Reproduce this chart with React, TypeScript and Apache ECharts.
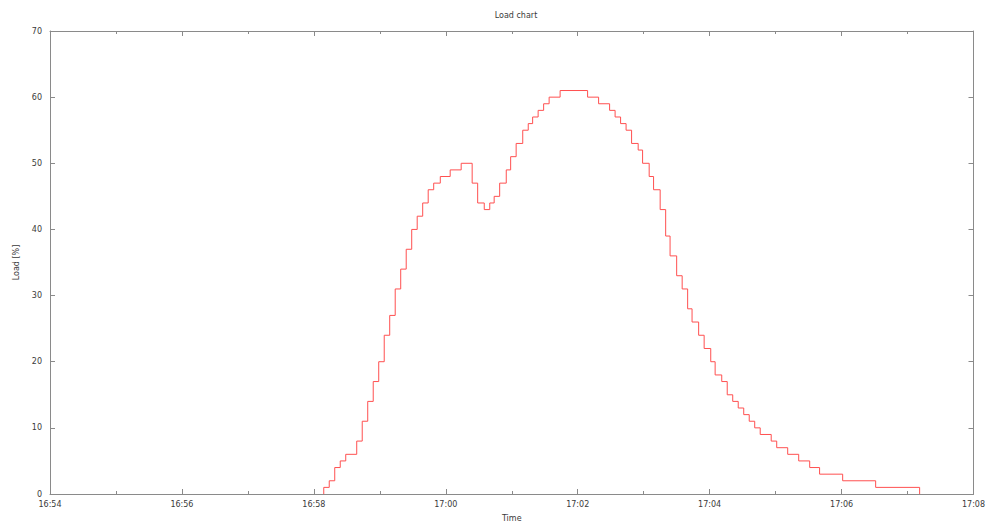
import React, { useEffect, useRef } from "react";
import * as echarts from "echarts";

// Sample times (HH:MM:SS) at which the load changes, and the new load value [%]
const sampleTimes: string[] = [
  "16:58:09", "16:58:09", "16:58:14", "16:58:19", "16:58:24", "16:58:29", "16:58:39", "16:58:44",
  "16:58:49", "16:58:54", "16:58:59", "16:59:04", "16:59:09", "16:59:14", "16:59:19", "16:59:24",
  "16:59:29", "16:59:34", "16:59:39", "16:59:44", "16:59:49", "16:59:55", "17:00:04", "17:00:14",
  "17:00:24", "17:00:29", "17:00:35", "17:00:40", "17:00:44", "17:00:49", "17:00:55", "17:00:59",
  "17:01:04", "17:01:10", "17:01:15", "17:01:19", "17:01:24", "17:01:29", "17:01:34", "17:01:44",
  "17:02:09", "17:02:19", "17:02:29", "17:02:34", "17:02:39", "17:02:44", "17:02:49", "17:02:55",
  "17:02:59", "17:03:05", "17:03:09", "17:03:15", "17:03:20", "17:03:24", "17:03:30", "17:03:35",
  "17:03:40", "17:03:44", "17:03:50", "17:03:55", "17:04:01", "17:04:05", "17:04:11", "17:04:16",
  "17:04:21", "17:04:26", "17:04:31", "17:04:36", "17:04:41", "17:04:46", "17:04:56", "17:05:01",
  "17:05:11", "17:05:21", "17:05:31", "17:05:40", "17:06:01", "17:06:31", "17:07:11",
];
const loadValues: number[] = [
  0, 1, 2, 4, 5, 6, 8, 11,
  14, 17, 20, 24, 27, 31, 34, 37,
  40, 42, 44, 46, 47, 48, 49, 50,
  47, 44, 43, 44, 45, 47, 49, 51,
  53, 55, 56, 57, 58, 59, 60, 61,
  60, 59, 58, 57, 56, 55, 53, 52,
  50, 48, 46, 43, 39, 36, 33, 31,
  28, 26, 24, 22, 20, 18, 17, 15,
  14, 13, 12, 11, 10, 9, 8, 7,
  6, 5, 4, 3, 2, 1, 0,
];

const xStart = "16:54";
const xEnd = "17:08";
const xTickStepMinutes = 2;
const yMin = 0;
const yMax = 70;
const yStep = 10;

const toSec = (s: string) => {
  const p = s.split(":").map(Number);
  return p[0] * 3600 + p[1] * 60 + (p[2] || 0);
};
const fmt = (v: number) => {
  const h = Math.floor(v / 3600);
  const m = Math.floor((v % 3600) / 60);
  return `${String(h).padStart(2, "0")}:${String(m).padStart(2, "0")}`;
};

export default function App() {
  const ref = useRef<HTMLDivElement>(null);
  useEffect(() => {
    if (!ref.current) return;
    const chart = echarts.init(ref.current, undefined, { renderer: "svg" });
    const font = "DejaVu Sans";
    const txt = "#3a3a3a";
    const axisCol = "#8a8a8a";
    const data = sampleTimes.map((t, i) => [toSec(t), loadValues[i]]);
    const xCommon = {
      type: "value" as const,
      min: toSec(xStart),
      max: toSec(xEnd),
      interval: xTickStepMinutes * 60,
      splitLine: { show: false },
      axisLine: { show: true, onZero: false, lineStyle: { color: axisCol, width: 1 } },
      axisTick: { show: true, inside: true, length: 5, lineStyle: { color: axisCol } },
      minorTick: { show: true, splitNumber: 2, length: 3, lineStyle: { color: axisCol } },
    };
    const yCommon = {
      type: "value" as const,
      min: yMin,
      max: yMax,
      interval: yStep,
      splitLine: { show: false },
      axisLine: { show: true, onZero: false, lineStyle: { color: axisCol, width: 1 } },
      axisTick: { show: true, inside: true, length: 5, lineStyle: { color: axisCol } },
    };
    chart.setOption({
      animation: false,
      backgroundColor: "#ffffff",
      title: {
        text: "Load chart",
        left: 511,
        textAlign: "center",
        top: 6,
        textStyle: { fontFamily: font, fontSize: 8, fontWeight: "normal", color: txt },
      },
      grid: {
        left: 50,
        right: 13.5,
        top: 31,
        bottom: 30,
        containLabel: false,
        outerBoundsMode: "none",
      },
      xAxis: [
        {
          ...xCommon,
          position: "bottom",
          name: "Time",
          nameLocation: "middle",
          nameGap: 20,
          nameTextStyle: { fontFamily: font, fontSize: 8, color: txt },
          axisLabel: {
            fontFamily: font,
            fontSize: 8,
            color: txt,
            margin: 6,
            formatter: (v: number) => fmt(v),
          },
        },
        { ...xCommon, position: "top", axisLabel: { show: false } },
      ],
      yAxis: [
        {
          ...yCommon,
          position: "left",
          name: "Load [%]",
          nameLocation: "middle",
          nameGap: 30,
          nameTextStyle: { fontFamily: font, fontSize: 8, color: txt },
          axisLabel: { fontFamily: font, fontSize: 8, color: txt, margin: 8 },
        },
        { ...yCommon, position: "right", axisLabel: { show: false } },
      ],
      series: [
        {
          type: "line",
          xAxisIndex: 0,
          yAxisIndex: 0,
          step: "end",
          symbol: "none",
          data,
          lineStyle: { color: "#ff5050", width: 1 },
          itemStyle: { color: "#ff5050" },
          clip: true,
        },
      ],
    });
    return () => chart.dispose();
  }, []);
  return (
    <div
      ref={ref}
      style={{ position: "fixed", left: 0, top: 0, width: 987, height: 524 }}
    />
  );
}
